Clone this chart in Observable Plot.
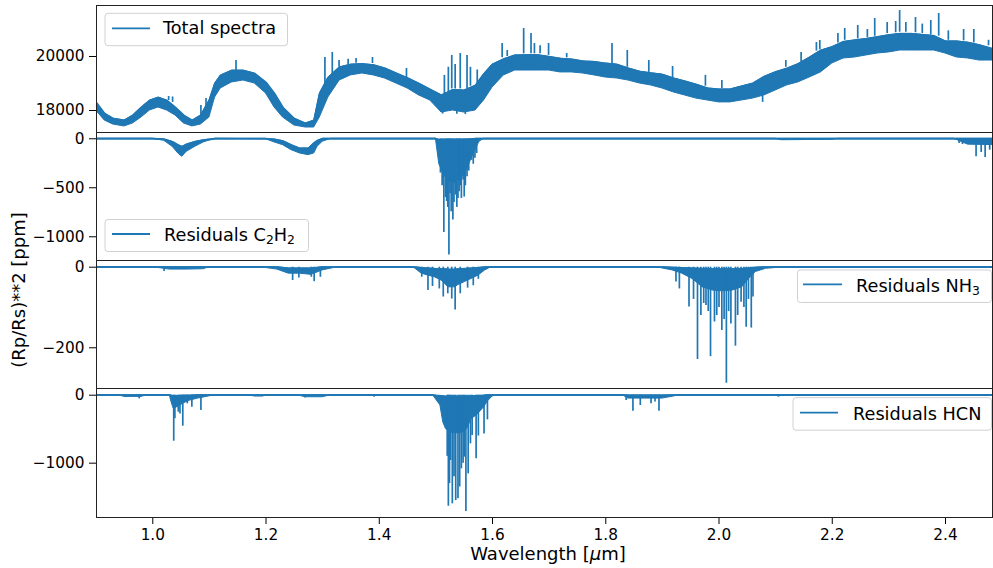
<!DOCTYPE html>
<html><head><meta charset="utf-8">
<script src="https://cdn.jsdelivr.net/npm/d3@7"></script>
<script src="https://cdn.jsdelivr.net/npm/@observablehq/plot@0.6"></script>
<style>
body{margin:0;background:#fff;}
#wrap{position:relative;width:993px;height:568px;overflow:hidden;background:#fff;font-family:"DejaVu Sans",sans-serif;}
#wrap svg{position:absolute;left:0;}
</style></head><body><div id="wrap"></div>
<script>
// ---------- data ----------
const xTicks = [1.0, 1.2, 1.4, 1.6, 1.8, 2.0, 2.2, 2.4];
const totalTicks = [18000, 20000];
const c2h2Ticks = [0, -500, -1000];
const nh3Ticks = [0, -200];
const hcnTicks = [0, -1000];

// Total spectra: wavelength, lower and upper edge of the noisy band [ppm]
const totalX  = [0.900,0.915,0.930,0.950,0.965,0.980,0.995,1.010,1.025,1.040,1.055,1.070,1.085,1.100,1.110,1.120,1.140,1.160,1.180,1.200,1.215,1.230,1.250,1.270,1.285,1.295,1.310,1.330,1.350,1.370,1.390,1.410,1.430,1.450,1.470,1.490,1.510,1.530,1.550,1.570,1.585,1.600,1.620,1.640,1.660,1.680,1.700,1.720,1.740,1.760,1.780,1.800,1.820,1.840,1.860,1.880,1.900,1.920,1.940,1.960,1.980,2.000,2.020,2.040,2.060,2.080,2.100,2.120,2.140,2.160,2.180,2.200,2.220,2.240,2.260,2.280,2.300,2.320,2.340,2.360,2.380,2.400,2.420,2.440,2.460,2.490];
const totalLo = [18000,17630,17480,17410,17520,17740,18000,18110,18000,17815,17520,17410,17480,17740,18480,18815,19040,19110,19000,18630,18110,17740,17444,17370,17370,17740,18480,19110,19300,19370,19300,19185,19000,18815,18560,18370,17925,18000,17925,18000,18370,18850,19300,19480,19480,19480,19480,19410,19410,19370,19300,19220,19185,19110,19000,18926,18815,18670,18556,18440,18370,18300,18300,18370,18440,18556,18741,18926,19040,19220,19410,19740,19926,19963,20037,20110,20150,20222,20222,20222,20222,20110,19963,19926,19850,19850];
const totalHi = [18300,17890,17700,17630,17815,18110,18370,18480,18370,18110,17815,17630,17815,18370,19000,19296,19480,19480,19370,19040,18630,18110,17700,17520,17630,18630,19220,19600,19700,19720,19680,19560,19380,19200,19000,18780,18560,18760,18740,18920,19350,19700,19900,20040,20050,20050,19990,19920,19890,19820,19800,19740,19700,19560,19440,19380,19330,19190,19080,18960,18820,18780,18780,18890,19000,19250,19420,19550,19720,19960,20220,20350,20540,20600,20650,20720,20790,20840,20840,20800,20760,20560,20560,20510,20420,20240];
// Isolated spikes of the total spectrum: wavelength, start and end value
const totalSpikeX    = [1.028,1.035,1.085,1.094,1.147,1.304,1.317,1.329,1.345,1.359,1.388,1.448,1.512,1.515,1.522,1.528,1.534,1.537,1.543,1.552,1.555,1.561,1.573,1.617,1.626,1.655,1.668,1.674,1.684,1.699,1.731,1.811,1.838,1.876,1.918,1.976,2.005,2.077,2.118,2.145,2.172,2.178,2.210,2.222,2.245,2.262,2.275,2.297,2.312,2.319,2.330,2.347,2.359,2.374,2.388,2.405,2.432,2.450,2.476];
const totalSpikeBase = [18370,18300,17800,17900,19480,18900,19300,19600,19700,19750,19740,19220,18000,18600,18700,18800,18800,18000,18800,17950,18800,18900,19000,19950,20000,20100,20100,20100,20100,20040,19950,19740,19600,19410,19220,18900,18815,18556,19600,19800,20200,20250,20500,20600,20650,20700,20750,20850,20880,20900,20900,20880,20850,20800,20750,20600,20580,20500,20400];
const totalSpikeTop  = [18520,18500,18185,18440,19850,19963,20150,19852,19900,19930,19963,19555,17870,19300,19600,20037,19700,17860,20110,17850,20037,19600,19500,20480,20222,21037,20850,20480,20400,20480,20110,20480,20222,19850,19630,19300,19110,18300,19850,20150,20518,20593,20850,21037,21150,21000,21407,21260,21296,21704,21260,21445,21200,21333,21593,20950,21000,21000,20600];

// Residuals C2H2: wavelength, deepest and shallowest edge of the absorption band [ppm]
const c2h2X  = [0.900,1.000,1.020,1.035,1.045,1.052,1.060,1.075,1.090,1.110,1.200,1.215,1.230,1.245,1.260,1.275,1.285,1.291,1.300,1.315,1.500,1.506,1.515,1.525,1.535,1.545,1.555,1.563,1.570,1.577,1.585,2.100,2.110,2.200,2.210,2.415,2.440,2.489];
const c2h2Lo = [0,0,-20,-82,-150,-184,-133,-82,-37,0,-5,-37,-65,-116,-150,-167,-150,-82,-31,0,0,-260,-380,-440,-450,-400,-320,-200,-110,-30,0,0,-15,-10,0,0,-60,-65];
const c2h2Hi = [0,0,-5,-31,-65,-82,-58,-31,-14,0,0,-7,-24,-65,-99,-99,-45,-20,0,0,0,-10,-15,-20,-20,-15,-10,-5,0,0,0,0,0,0,0,0,0,0];
const c2h2SpikeX = [1.508,1.511,1.514,1.517,1.519,1.521,1.523,1.525,1.527,1.530,1.532,1.535,1.537,1.539,1.541,1.543,1.545,1.548,1.550,1.552,1.555,1.558,1.563,1.566,1.569,1.572,2.424,2.430,2.454,2.463,2.470,2.478,2.487];
const c2h2SpikeY = [-350,-480,-956,-600,-640,-700,-1187,-560,-745,-830,-650,-575,-700,-609,-540,-480,-609,-420,-595,-480,-388,-330,-220,-260,-200,-150,-48,-59,-184,-140,-190,-116,-82];

// Residuals NH3
const nh3X  = [0.900,1.000,1.030,1.060,1.090,1.100,1.190,1.220,1.240,1.260,1.280,1.300,1.320,1.330,1.455,1.463,1.475,1.487,1.498,1.510,1.516,1.522,1.534,1.539,1.551,1.563,1.575,1.587,1.598,1.890,1.900,1.918,1.935,1.953,1.971,1.989,2.006,2.024,2.041,2.053,2.065,2.083,2.118,2.489];
const nh3Lo = [0,0,-6,-6,-5,0,0,-6,-16,-16,-19,-8,-2,0,0,-3,-16,-21,-25,-33,-41,-50,-50,-45,-37,-29,-21,-8,0,0,-3,-8,-16,-29,-50,-58,-60,-58,-50,-29,-12,-4,0,0];
const nh3Hi = [0,0,0,0,0,0,0,0,-3,-3,-3,0,0,0,0,0,-2,-3,-4,-5,-5,-6,-6,-5,-4,-3,-2,0,0,0,0,-1,-2,-3,-4,-5,-5,-5,-4,-3,-1,0,0,0];
const nh3SpikeX = [1.020,1.247,1.258,1.280,1.285,1.296,1.475,1.486,1.494,1.506,1.513,1.521,1.528,1.534,1.543,1.556,1.566,1.575,1.924,1.930,1.947,1.955,1.962,1.968,1.973,1.977,1.981,1.985,1.992,1.996,2.000,2.005,2.009,2.013,2.017,2.021,2.029,2.033,2.039,2.044,2.048,2.052,2.057,2.060];
const nh3SpikeY = [-11,-33,-27,-25,-36,-25,-25,-58,-48,-54,-74,-66,-79,-106,-66,-52,-46,-30,-37,-54,-99,-80,-229,-120,-90,-95,-110,-222,-136,-120,-100,-157,-130,-288,-110,-141,-196,-120,-87,-100,-149,-80,-151,-74];

// Residuals HCN
const hcnX  = [0.900,0.940,0.950,0.980,0.990,1.030,1.033,1.037,1.045,1.055,1.065,1.080,1.095,1.110,1.170,1.180,1.195,1.200,1.255,1.270,1.300,1.315,1.495,1.500,1.508,1.513,1.518,1.530,1.545,1.555,1.563,1.572,1.585,1.592,1.600,1.606,1.830,1.840,1.870,1.900,1.920,1.930,2.489];
const hcnLo = [0,0,-25,-25,0,0,-100,-200,-170,-120,-80,-50,-25,0,0,-20,-20,0,0,-30,-30,0,0,-60,-150,-400,-500,-560,-560,-500,-350,-300,-180,-90,-20,0,0,-50,-50,-50,-20,0,0];
const hcnHi = [0,0,0,0,0,0,-5,-10,-10,-5,-5,0,0,0,0,0,0,0,0,0,0,0,0,-5,-10,-15,-20,-20,-20,-20,-15,-10,-5,0,0,0,0,-3,-3,-3,0,0,0];
const hcnSpikeX = [0.976,1.037,1.039,1.045,1.048,1.053,1.061,1.069,1.085,1.269,1.391,1.520,1.522,1.524,1.526,1.529,1.532,1.535,1.539,1.542,1.545,1.548,1.550,1.553,1.557,1.561,1.564,1.571,1.575,1.585,1.591,1.836,1.848,1.861,1.880,1.887,1.894,2.105];
const hcnSpikeY = [-54,-677,-348,-250,-275,-456,-127,-176,-225,-40,-30,-900,-1633,-1300,-961,-1598,-1200,-1550,-1525,-1350,-1083,-1000,-912,-1711,-1157,-716,-593,-936,-600,-569,-363,-78,-235,-152,-127,-100,-235,-30];

// ---------- drawing ----------
const blue = "#1f77b4";
const xDomain = [0.9006, 2.483];
const wrap = document.getElementById("wrap");

function envRows(xs, lo, hi) { return xs.map((x, i) => ({x, lo: lo[i], hi: hi[i]})); }
function spikeRows(xs, base, top) { return xs.map((x, i) => ({x, base: Array.isArray(base) ? base[i] : base, top: top[i]})); }
const fmtY = d3.format("d");

function panel({top, bottom, domain, ticks, env, spikes, last}) {
  const mt = 10, mb = last ? 51 : 10;
  const svg = Plot.plot({
    width: 993, height: (bottom - top) + mt + mb,
    marginLeft: 96, marginRight: 1, marginTop: mt, marginBottom: mb,
    style: {background: "none", overflow: "visible", fontFamily: "DejaVu Sans, sans-serif", fontSize: "15.3px", color: "#000"},
    x: last ? {domain: xDomain, ticks: xTicks, tickFormat: d => d.toFixed(1), tickSize: 7, tickPadding: 5, label: null}
            : {domain: xDomain, axis: null},
    y: {domain, ticks, tickFormat: fmtY, tickSize: 7, tickPadding: 5, label: null},
    marks: [
      Plot.areaY(env, {x: "x", y1: "lo", y2: "hi", fill: blue, stroke: blue, strokeWidth: 1, clip: true}),
      Plot.line(env, {x: "x", y: "hi", stroke: blue, strokeWidth: 1.8, clip: true}),
      Plot.ruleX(spikes, {x: "x", y1: "base", y2: "top", stroke: blue, strokeWidth: 1.7, clip: true}),
      Plot.frame({stroke: "#222", strokeWidth: 1})
    ]
  });
  svg.style.top = (top - mt) + "px";
  wrap.appendChild(svg);
}

panel({top: 5, bottom: 132, domain: [17185, 21889], ticks: totalTicks,
       env: envRows(totalX, totalLo, totalHi), spikes: spikeRows(totalSpikeX, totalSpikeBase, totalSpikeTop)});
panel({top: 132, bottom: 260, domain: [-1242, 64], ticks: c2h2Ticks,
       env: envRows(c2h2X, c2h2Lo, c2h2Hi), spikes: spikeRows(c2h2SpikeX, 0, c2h2SpikeY)});
panel({top: 260, bottom: 388, domain: [-301, 16.6], ticks: nh3Ticks,
       env: envRows(nh3X, nh3Lo, nh3Hi), spikes: spikeRows(nh3SpikeX, 0, nh3SpikeY)});
panel({top: 388, bottom: 517, domain: [-1799, 98.5], ticks: hcnTicks,
       env: envRows(hcnX, hcnLo, hcnHi), spikes: spikeRows(hcnSpikeX, 0, hcnSpikeY), last: true});

// ---------- overlay: legends and axis titles ----------
const ov = d3.select(wrap).append("svg")
  .attr("width", 993).attr("height", 568).style("top", "0px")
  .style("font-family", "DejaVu Sans, sans-serif");

const legends = [
  {x: 105, y: 13.3, w: 182.5, h: 32.4, ly: 28.3, lx1: 112, lx2: 150, tx: 163, ty: 33.6, parts: [["Total spectra"]]},
  {x: 105, y: 219.5, w: 203.5, h: 32, ly: 234, lx1: 112, lx2: 150, tx: 164, ty: 240.6, parts: [["Residuals C"], ["2", true], ["H"], ["2", true]]},
  {x: 797.5, y: 270, w: 194, h: 32.5, ly: 284.3, lx1: 803, lx2: 842, tx: 856, ty: 291.6, parts: [["Residuals NH"], ["3", true]]},
  {x: 793, y: 397.7, w: 198.5, h: 32.5, ly: 412.7, lx1: 800, lx2: 838, tx: 853, ty: 419.5, parts: [["Residuals HCN"]]}
];
for (const L of legends) {
  ov.append("rect").attr("x", L.x).attr("y", L.y).attr("width", L.w).attr("height", L.h)
    .attr("rx", 3).attr("fill", "white").attr("fill-opacity", 0.8).attr("stroke", "#d0d0d0").attr("stroke-width", 1);
  ov.append("line").attr("x1", L.lx1).attr("x2", L.lx2).attr("y1", L.ly).attr("y2", L.ly)
    .attr("stroke", blue).attr("stroke-width", 1.8);
  const t = ov.append("text").attr("x", L.tx).attr("y", L.ty).attr("font-size", 17.7).attr("fill", "#000");
  for (const [s, sub] of L.parts) {
    if (sub) t.append("tspan").attr("font-size", 12.4).attr("dy", 3.4).text(s);
    else {
      const sp = t.append("tspan").text(s);
      if (t.node().childNodes.length > 1) sp.attr("dy", -3.4);
    }
  }
}

ov.append("text").attr("transform", "translate(19,290) rotate(-90)").attr("text-anchor", "middle")
  .attr("dy", "0.31em").attr("font-size", 18).attr("fill", "#000").text("(Rp/Rs)**2 [ppm]");

const xl = ov.append("text").attr("x", 548).attr("y", 559.5).attr("text-anchor", "middle")
  .attr("font-size", 18).attr("fill", "#000");
xl.append("tspan").text("Wavelength [");
xl.append("tspan").attr("font-style", "italic").text("μ");
xl.append("tspan").text("m]");
</script></body></html>
